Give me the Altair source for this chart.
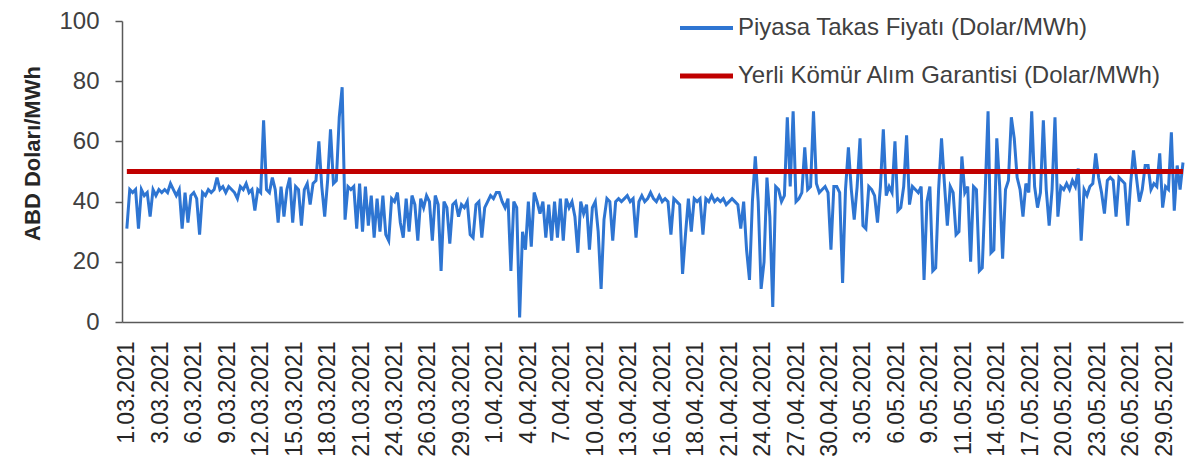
import altair as alt
import pandas as pd

# ---- data (one value every 6 hours) ----
STEP_HOURS = 6
MARCH = [
    31, 44, 43, 44,  31, 44, 42, 43,  35, 44, 42, 44,  43, 44, 43, 46,
    44, 42, 44, 31,  43, 33, 42, 43,  41, 29, 43, 42,  44, 43, 44, 48,
    44, 45, 43, 45,  44, 43, 41, 45,  44, 46, 43, 44,  37, 44, 43, 67,
    44, 43, 48, 44,  33, 45, 35, 44,  48, 33, 45, 44,  32, 44, 46, 39,
    46, 47, 60, 45,  35, 47, 64, 46,  47, 68, 78, 34,  45, 44, 45, 31,
    46, 30, 45, 32,  42, 28, 41, 30,  42, 29, 27, 41,  40, 43, 33, 28,
    41, 30, 42, 39,  27, 41, 38, 42,  40, 27, 42, 39,  17, 40, 38, 26,
    39, 40, 35, 39,  38, 40, 29, 28,  39, 40, 28, 38,
]
APRIL = [
    40, 42, 41, 43,  43, 40, 38, 41,  17, 40, 38, 1.5, 30, 24, 40, 25,
    43, 40, 36, 40,  28, 39, 27, 40,  28, 41, 27, 41,  38, 40, 35, 23,
    40, 36, 39, 24,  38, 40, 30, 11,  34, 41, 40, 27,  40, 41, 40, 41,
    42, 40, 41, 28,  40, 42, 40, 41,  43, 41, 40, 42,  40, 41, 40, 29,
    41, 40, 39, 16,  29, 41, 30, 41,  40, 41, 29, 41,  40, 42, 40, 41,
    40, 41, 39, 40,  41, 40, 39, 31,  40, 24, 14, 40,  55, 40, 11, 20,
    48, 35, 5, 45,   44, 40, 42, 68,  45, 70, 40, 41,  43, 58, 44, 45,
    70, 46, 43, 44,  45, 43, 24, 45,
]
MAY = [
    45, 43, 13, 44,  58, 44, 34, 45,  61, 32, 31, 45,  44, 42, 33, 45,
    64, 42, 45, 43,  60, 37, 38, 45,  62, 39, 45, 44,  43, 45, 14, 40,
    45, 17, 18, 44,  61, 46, 32, 45,  43, 29, 30, 55,  43, 45, 20, 45,
    44, 17, 18, 43,  70, 23, 24, 61,  45, 21, 44, 47,  68, 61, 48, 44,
    35, 46, 43, 70,  45, 38, 43, 67,  44, 32, 44, 68,  35, 45, 44, 46,
    44, 47, 45, 51,  27, 44, 42, 45,  46, 56, 48, 43,  36, 47, 48, 47,
    35, 48, 47, 46,  32, 46, 57, 48,  40, 44, 52, 52,  44, 46, 45, 56,
    38, 45, 44, 63,  37, 52, 44, 53,
]
GUARANTEE = 50
TICK_STEP = 69
TICK_LABELS = [
    "1.03.2021", "3.03.2021", "6.03.2021", "9.03.2021", "12.03.2021",
    "15.03.2021", "18.03.2021", "21.03.2021", "24.03.2021", "26.03.2021",
    "29.03.2021", "1.04.2021", "4.04.2021", "7.04.2021", "10.04.2021",
    "13.04.2021", "16.04.2021", "18.04.2021", "21.04.2021", "24.04.2021",
    "27.04.2021", "30.04.2021", "3.05.2021", "6.05.2021", "9.05.2021",
    "11.05.2021", "14.05.2021", "17.05.2021", "20.05.2021", "23.05.2021",
    "26.05.2021", "29.05.2021",
]
SERIES = ["Piyasa Takas Fiyatı (Dolar/MWh)", "Yerli Kömür Alım Garantisi (Dolar/MWh)"]
Y_TITLE = "ABD Doları/MWh"
Y_TICKS = [0, 20, 40, 60, 80, 100]

# ---- tables ----
prices = MARCH + APRIL + MAY
hours = [i * STEP_HOURS for i in range(len(prices))]
price_df = pd.DataFrame({"hour": hours, "price": prices})
guar_df = pd.DataFrame({"hour": hours, "price": [GUARANTEE] * len(hours)})

BLUE = "#2E75D2"
RED = "#C00000"
AXIS_COLOR = "#595959"
TEXT_COLOR = "#404040"
FONT = "Liberation Sans"

tick_values = [k * TICK_STEP for k in range(len(TICK_LABELS))]
label_expr = "[" + ",".join("'" + s + "'" for s in TICK_LABELS) + "][round(datum.value / %d)]" % TICK_STEP

x_enc = alt.X(
    "hour:Q",
    scale=alt.Scale(domain=[-10, hours[-1]], nice=False, zero=False),
    axis=alt.Axis(
        values=tick_values,
        labelExpr=label_expr,
        labelAngle=270,
        labelFontSize=23,
        labelColor="#262626",
        labelFont=FONT,
        labelPadding=19,
        ticks=False,
        grid=False,
        domainColor=AXIS_COLOR,
        domainWidth=1.5,
        labelOverlap=False,
        title=None,
    ),
)
y_enc = alt.Y(
    "price:Q",
    scale=alt.Scale(domain=[0, 100], nice=False),
    axis=alt.Axis(
        values=Y_TICKS,
        tickSize=7,
        tickColor=AXIS_COLOR,
        tickWidth=1.5,
        domainColor=AXIS_COLOR,
        domainWidth=1.5,
        grid=False,
        labelFontSize=24,
        labelFont=FONT,
        labelColor=TEXT_COLOR,
        labelPadding=16,
        title=Y_TITLE,
        titleFont=FONT,
        titleFontSize=22,
        titleFontWeight="bold",
        titleColor="#262626",
        titleAngle=270,
        titleX=-90,
        titleY=132,
        titleAlign="center",
        titleBaseline="middle",
    ),
)

price_line = alt.Chart(price_df).mark_line(color=BLUE, strokeWidth=3).encode(x=x_enc, y=y_enc)
guar_line = alt.Chart(guar_df).mark_line(color=RED, strokeWidth=5).encode(x=x_enc, y=y_enc)

leg_df = pd.DataFrame({"label": SERIES})
leg1 = alt.Chart(leg_df.iloc[[0]])
leg2 = alt.Chart(leg_df.iloc[[1]])

sw1 = leg1.mark_rule(color=BLUE, strokeWidth=4).encode(x=alt.value(558), x2=alt.value(611), y=alt.value(7))
tx1 = leg1.mark_text(align="left", baseline="middle", fontSize=24, font=FONT, color=TEXT_COLOR).encode(
    x=alt.value(616), y=alt.value(7), text="label:N")
sw2 = leg2.mark_rule(color=RED, strokeWidth=5).encode(x=alt.value(558), x2=alt.value(611), y=alt.value(55))
tx2 = leg2.mark_text(align="left", baseline="middle", fontSize=24, font=FONT, color=TEXT_COLOR).encode(
    x=alt.value(616), y=alt.value(55), text="label:N")

chart = (
    alt.layer(price_line, guar_line, sw1, tx1, sw2, tx2)
    .properties(
        width=1061,
        height=301,
        autosize=alt.AutoSizeParams(type="none"),
        padding={"left": 114, "top": 13, "right": 7, "bottom": 136},
        background="white",
    )
    .configure_view(stroke=None)
)

chart.save("out.html", embed_options={"renderer": "svg", "actions": False})
